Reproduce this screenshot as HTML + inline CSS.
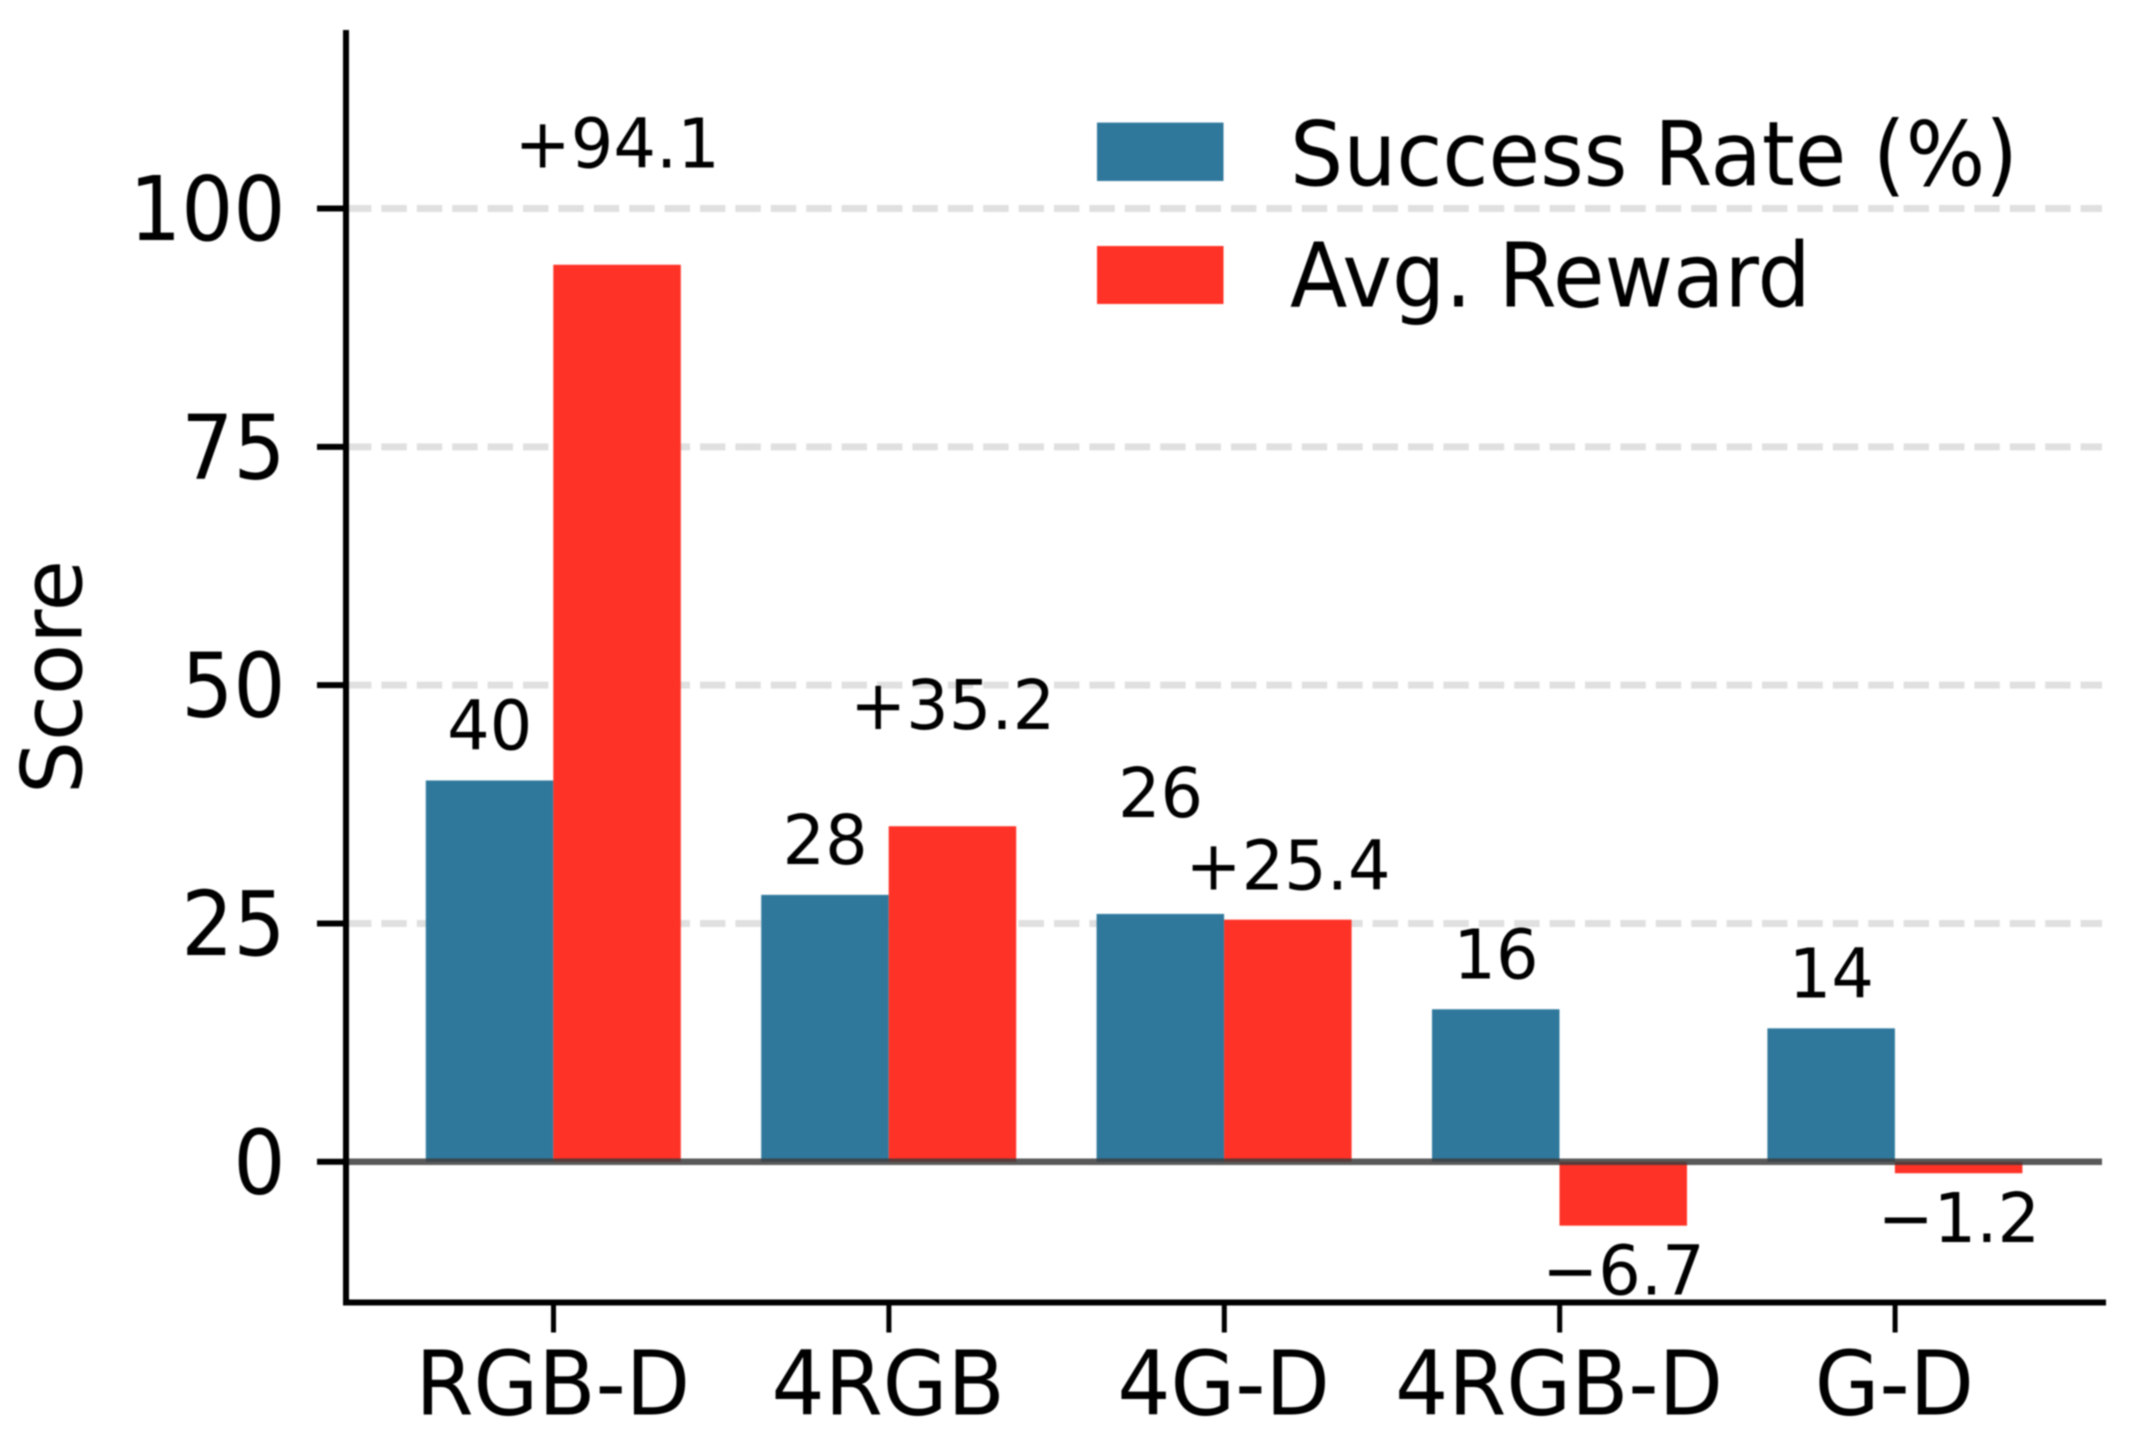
<!DOCTYPE html>
<html lang="en">
<head>
<meta charset="utf-8">
<title>Success Rate and Average Reward by Input Configuration</title>
<style>
  html, body { margin: 0; padding: 0; background: #ffffff; }
  #chart { display: block; width: 2150px; height: 1435px; filter: blur(0.7px); }
  text { font-family: "DejaVu Sans", "Liberation Sans", sans-serif; fill: #000000; }
</style>
</head>
<body>
<svg id="chart" xmlns="http://www.w3.org/2000/svg" width="2150" height="1435" viewBox="0 0 2150 1435"></svg>
<script>
const categories = ['RGB-D', '4RGB', '4G-D', '4RGB-D', 'G-D'];
const successRate = [40, 28, 26, 16, 14];
const avgReward = [94.1, 35.2, 25.4, -6.7, -1.2];
const yTicks = [0, 25, 50, 75, 100];

const svg = document.getElementById('chart');
const NS = 'http://www.w3.org/2000/svg';
const BLUE = '#2f789c';
const RED = '#fe3226';
const plot = { left: 346, right: 2102, bottom: 1302.5, top: 30 };
const FONT_TICK = 84, FONT_LABEL = 65, FONT_LEGEND = 84;
const STRETCH_Y = 1.06;

function yScale(v) { return 1161.8 - v * 9.533; }
function xScale(i) { return 553.5 + i * 335.4; }
const barWidth = 127.5;
const barShift = -0.2;

function make(tag, attrs, parent, txt) {
  const el = document.createElementNS(NS, tag);
  for (const k in attrs) el.setAttribute(k, attrs[k]);
  if (txt !== undefined) el.textContent = txt;
  (parent || svg).appendChild(el);
  return el;
}
function label(str, x, y, size, anchor, sx) {
  return make('text', { transform: `translate(${x} ${y}) scale(${sx} ${STRETCH_Y})`, 'text-anchor': anchor, 'font-size': size }, svg, str);
}
function fmtReward(v) { return (v >= 0 ? '+' : '\u2212') + Math.abs(v).toFixed(1); }

/* horizontal dashed grid */
yTicks.filter(t => t !== 0).forEach(t => {
  const g = make('line', { x1: plot.left, x2: plot.right, y1: yScale(t), y2: yScale(t), stroke: '#e0e0e0', 'stroke-width': 7, 'stroke-dasharray': '25.4 10' });
  
  
});

/* bars and value labels */
categories.forEach((c, i) => {
  const cx = xScale(i);
  const s = successRate[i], r = avgReward[i];

  const y0 = yScale(0);
  const sy = yScale(s);
  const b1 = make('rect', { x: cx + barShift - barWidth, y: Math.min(sy, y0), width: barWidth, height: Math.abs(y0 - sy), fill: BLUE });
  
  

  const ry = yScale(r);
  const b2 = make('rect', { x: cx + barShift, y: Math.min(ry, y0), width: barWidth, height: Math.abs(y0 - ry), fill: RED });
  
  

  /* labels lift clear of a neighbouring bar or label when values collide */
  const sGap = Math.abs(s - r) < 3 ? 97 : 31;
  const rGap = r < 0 ? 69 : (r > s ? 97 : 30);

  const t1 = label(String(s), cx - barWidth / 2, sy - sGap, FONT_LABEL, 'middle', 1.03);
  
  

  const t2 = label(fmtReward(r), cx + barWidth / 2, r < 0 ? ry + rGap : ry - rGap, FONT_LABEL, 'middle', 1.03);
  
  
});

/* zero reference line */
const zero = make('line', { x1: plot.left, x2: plot.right, y1: yScale(0), y2: yScale(0), stroke: '#3c3c3c', 'stroke-opacity': 0.85, 'stroke-width': 6.5 });



/* y ticks */
yTicks.forEach(t => {
  const m = make('line', { x1: 317, x2: plot.left, y1: yScale(t), y2: yScale(t), stroke: '#000', 'stroke-width': 6 });
  
  
  const l = label(String(t), 285.5, yScale(t) + 31.5, FONT_TICK, 'end', 0.975);
  
  
});

/* x ticks */
categories.forEach((c, i) => {
  const m = make('line', { x1: xScale(i), x2: xScale(i), y1: plot.bottom, y2: 1332.5, stroke: '#000', 'stroke-width': 5 });
  
  
  const l = label(c, xScale(i) - 0.7, 1414.5, FONT_TICK, 'middle', 0.995);
  
  
});

/* axis spines */
const spineY = make('line', { x1: plot.left, x2: plot.left, y1: plot.top, y2: plot.bottom + 3, stroke: '#000', 'stroke-width': 6 });


const spineX = make('line', { x1: plot.left - 3, x2: 2106, y1: plot.bottom, y2: plot.bottom, stroke: '#000', 'stroke-width': 6 });



/* y axis title */
const title = make('text', { transform: 'translate(81.5 677) rotate(-90) scale(0.995 1.0)', 'text-anchor': 'middle', 'font-size': FONT_LEGEND }, svg, 'Score');



/* legend */
const swatch1 = make('rect', { x: 1097, y: 122.6, width: 126.5, height: 58.4, fill: BLUE });


const legend1 = label('Success Rate (%)', 1290, 185, FONT_LEGEND, 'start', 0.998);


const swatch2 = make('rect', { x: 1097, y: 246, width: 126.5, height: 58, fill: RED });


const legend2 = label('Avg. Reward', 1290, 306.5, FONT_LEGEND, 'start', 0.998);


</script>
</body>
</html>
